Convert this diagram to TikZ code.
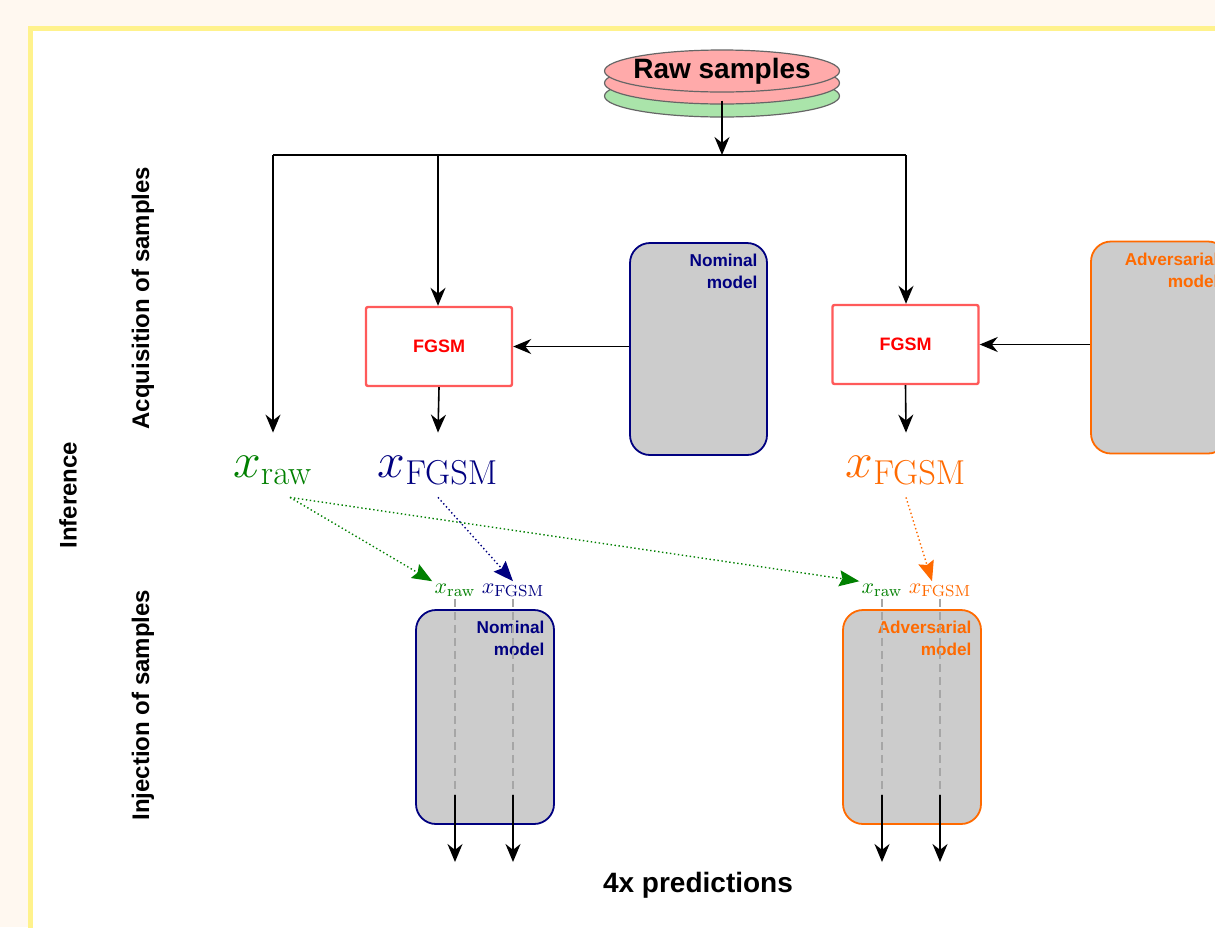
\documentclass[tikz,border=0pt]{standalone}
\usepackage[no-math]{fontspec}
\setmainfont{Liberation Sans}
\usetikzlibrary{arrows.meta,shapes.geometric}
\definecolor{cream}{RGB}{255,248,240}
\definecolor{frame}{RGB}{255,242,140}
\definecolor{grn}{RGB}{0,128,0}
\definecolor{nvy}{RGB}{0,0,128}
\definecolor{org}{RGB}{255,106,0}
\definecolor{fred}{RGB}{255,90,90}
\definecolor{pnk}{RGB}{255,170,170}
\definecolor{lgrn}{RGB}{170,228,170}
\definecolor{boxgray}{RGB}{204,204,204}
\tikzset{
	disk/.style={ellipse,draw=black!60,line width=0.6pt,minimum width=117.5pt,minimum height=21pt,inner sep=0pt},
	fgsm/.style={draw=fred,line width=1.2pt,rounded corners=1pt,minimum width=73pt,minimum height=39.5pt,font=\small\bfseries,text=red},
	model/.style={draw=#1,line width=0.9pt,fill=boxgray,rounded corners=10pt,minimum width=68.5pt,minimum height=106pt},
	mlabel/.style={anchor=north east,align=right,inner sep=1pt,font=\fontsize{8.6}{11}\selectfont\bfseries,text=#1},
	xbig/.style={text=#1,font=\fontsize{23.5}{28}\selectfont,inner sep=0pt,text height=22pt,text depth=10pt,anchor=base},
	xsmall/.style={text=#1,inner sep=1pt,font=\fontsize{11}{13}\selectfont},
	side/.style={rotate=90,font=\large\bfseries},
	arr/.style={-{Stealth[length=9pt,width=7.5pt]},line width=0.8pt},
	inj/.style={dash pattern=on 0.7pt off 1.3pt,line width=0.7pt,draw=#1,-{Stealth[length=10pt,width=8pt,inset=1.5pt,fill=#1]}},
}
\begin{document}
\begin{tikzpicture}[x=0.5pt,y=-0.5pt]
	\useasboundingbox (0,0) rectangle (1215,927);
	\clip (0,0) rectangle (1215,927);
	\fill[cream] (0,0) rectangle (1215,927);
	\draw[frame,line width=2.6pt,fill=white] (30.5,28.5) rectangle (1260,980);
	% raw samples
	\node[disk,fill=lgrn] (raw3) at (722,96) {};
	\node[disk,fill=pnk] (raw2) at (722,83) {};
	\node[disk,fill=pnk] (raw) at (722,71) {};
	\node[font=\fontsize{14}{16}\selectfont\bfseries] (rawtxt) at (raw.center) {Raw samples};
	\coordinate (bus) at (722,155);
	\coordinate (bl) at (273,155);\coordinate (bm) at (438,155);\coordinate (br) at (906,155);
	% acquisition
	\node[model=nvy] (nom) at (698.5,349) {};
	\node[mlabel=nvy] (nomtxt) at ([xshift=-4pt,yshift=-5pt]nom.north east) {Nominal\\model};
	\node[model=org] (adv) at (1159.5,347.5) {};
	\node[mlabel=org] (advtxt) at ([xshift=-4pt,yshift=-5pt]adv.north east) {Adversarial\\model};
	\node[fgsm] (fg1) at (439,346.5) {FGSM};
	\node[fgsm] (fg2) at (905.5,344.5) {FGSM};
	\node[xbig=grn] (xr) at (273,477) {$x_{\mathrm{raw}}$};
	\node[xbig=nvy] (xf1) at (438,477) {$x_{\mathrm{FGSM}}$};
	\node[xbig=org] (xf2) at (906,477) {$x_{\mathrm{FGSM}}$};
	\draw[line width=0.8pt] (bl) -- (br);
	\draw[arr] ([yshift=-4pt]raw.south) -- (bus);
	\draw[arr] (bl) -- (xr.north);
	\draw[arr] (bm) -- (bm |- fg1.north);
	\draw[arr] (br) -- (br |- fg2.north);
	\draw[arr] (fg1.south) -- (xf1.north);
	\draw[arr] (fg2.south) -- (xf2.north);
	\draw[arr] (nom.west |- fg1) -- (fg1.east);
	\draw[arr] (adv.west |- fg2) -- (fg2.east);
	% injection
	\node[model=nvy,minimum width=69pt,minimum height=107pt] (nomb) at (485,717) {};
	\node[mlabel=nvy] (nombtxt) at ([xshift=-4pt,yshift=-5pt]nomb.north east) {Nominal\\model};
	\node[model=org,minimum width=69pt,minimum height=107pt] (advb) at (912,717) {};
	\node[mlabel=org] (advbtxt) at ([xshift=-4pt,yshift=-5pt]advb.north east) {Adversarial\\model};
	\foreach \n/\x/\c/\lab in {sr1/455/grn/raw,sf1/513/nvy/FGSM,sr2/882/grn/raw,sf2/940/org/FGSM}{
		\node[xsmall=\c] (\n) at (\x,590) {$x_{\mathrm{\lab}}$};
		\coordinate (\n-d) at (\x,795);\coordinate (\n-o) at (\x,862);
		\draw[dash pattern=on 4pt off 2.5pt,gray!70,line width=0.6pt] (\n) -- (\n-d);
		\draw[arr] (\n-d) -- (\n-o);
	}
	\draw[inj=grn] ([xshift=8.5pt]xr.south) -- (sr1.north west);
	\draw[inj=grn] ([xshift=8.5pt]xr.south) -- (sr2.north west);
	\draw[inj=nvy] (xf1.south) -- (sf1.north);
	\draw[inj=org] (xf2.south) -- ([xshift=-4pt]sf2.north);
	\node[font=\fontsize{14}{16}\selectfont\bfseries] (pred) at (698,885) {4x predictions};
	\node[side] (acq) at (143,298) {Acquisition of samples};
	\node[side] (injl) at (143,705) {Injection of samples};
	\node[side] (inf) at (68,495) {Inference};
\end{tikzpicture}
\end{document}
